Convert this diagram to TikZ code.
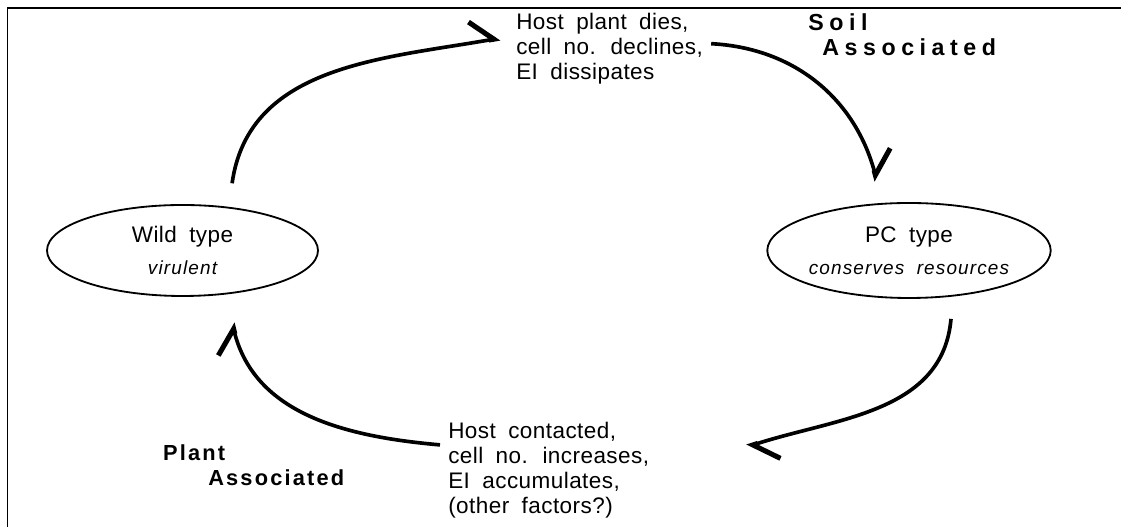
\documentclass[tikz,border=0pt]{standalone}
\usepackage{fontspec}
\setmainfont{Liberation Sans}
\newfontfamily\notefont[LetterSpace=2]{Liberation Sans}
\newfontfamily\traitfont[LetterSpace=6]{Liberation Sans}
\newfontfamily\habitatfont[LetterSpace=10]{Liberation Sans}
\newfontfamily\soilfont[LetterSpace=24]{Liberation Sans}
\usetikzlibrary{arrows.meta, shapes.geometric}
\newcommand{\trait}[1]{{\fontsize{13.5}{15}\selectfont\traitfont\itshape #1}}

\begin{document}
\begin{tikzpicture}[
  font={\fontsize{16}{17.8}\selectfont\notefont\spaceskip=0.55em plus 0.1em},
  phase/.style={draw, ellipse, line width=1.3pt, inner sep=0pt, align=center},
  note/.style={anchor=west, inner sep=0pt, align=left},
  habitat/.style={anchor=west, inner sep=0pt,
    font=\fontsize{15.5}{18}\selectfont\habitatfont\bfseries},
  soilhab/.style={habitat, font=\fontsize{16.5}{18}\selectfont\soilfont\bfseries},
  cyc/.style={line width=2.6pt,
    -{Straight Barb[harpoon, length=0.55cm, angle'=88, line width=3.6pt]}},
]
  \useasboundingbox (0,0) rectangle (28.025,13.175);

  % Frame (left and top edges only)
  \draw[line width=1.2pt] (0.19,0) |- (28.025,12.975);

  % The two cell types
  \node[phase, minimum width=6.775cm, minimum height=2.275cm] (wild) at (4.5625, 6.9125)
    {Wild type\\[5pt]\trait{virulent}};
  \node[phase, minimum width=7.05cm, minimum height=2.375cm] (pc) at (22.725, 6.9125)
    {PC type\\[5pt]\trait{conserves resources}};

  % Events between them
  \node[note] (dieoff) at (12.9, 11.9625)
    {Host plant dies,\\cell no. declines,\\EI dissipates};
  \node[note] (contact) at (11.2, 1.4125)
    {Host contacted,\\cell no. increases,\\EI accumulates,\\(other factors?)};

  % Habitats
  \node[soilhab] (soil) at (20.2, 12.625) {Soil};
  \node[soilhab] (soilassoc) at (20.55, 12.0) {Associated};
  \node[habitat] (plant) at (4.07, 1.85) {Plant};
  \node[habitat] (plantassoc) at (5.2, 1.225) {Associated};

  % Cycle
  \draw[cyc] ([shift={(1.24,0.52)}]wild.north) to[out=82, in=190]
    ([shift={(-0.4,0.26)}]dieoff.west);
  \draw[cyc] ([shift={(0.2,0.12)}]dieoff.east) to[out=-3, in=105]
    ([shift={(-0.8,0.525)}]pc.north);
  \draw[cyc] ([shift={(1.05,-0.5)}]pc.south) to[out=-95, in=18]
    ([shift={(7.475,0.59)}]contact.west);
  \draw[cyc] ([shift={(-0.2,0.64)}]contact.west) to[out=175, in=-76]
    ([shift={(1.24,-0.65)}]wild.south);

\end{tikzpicture}
\end{document}
